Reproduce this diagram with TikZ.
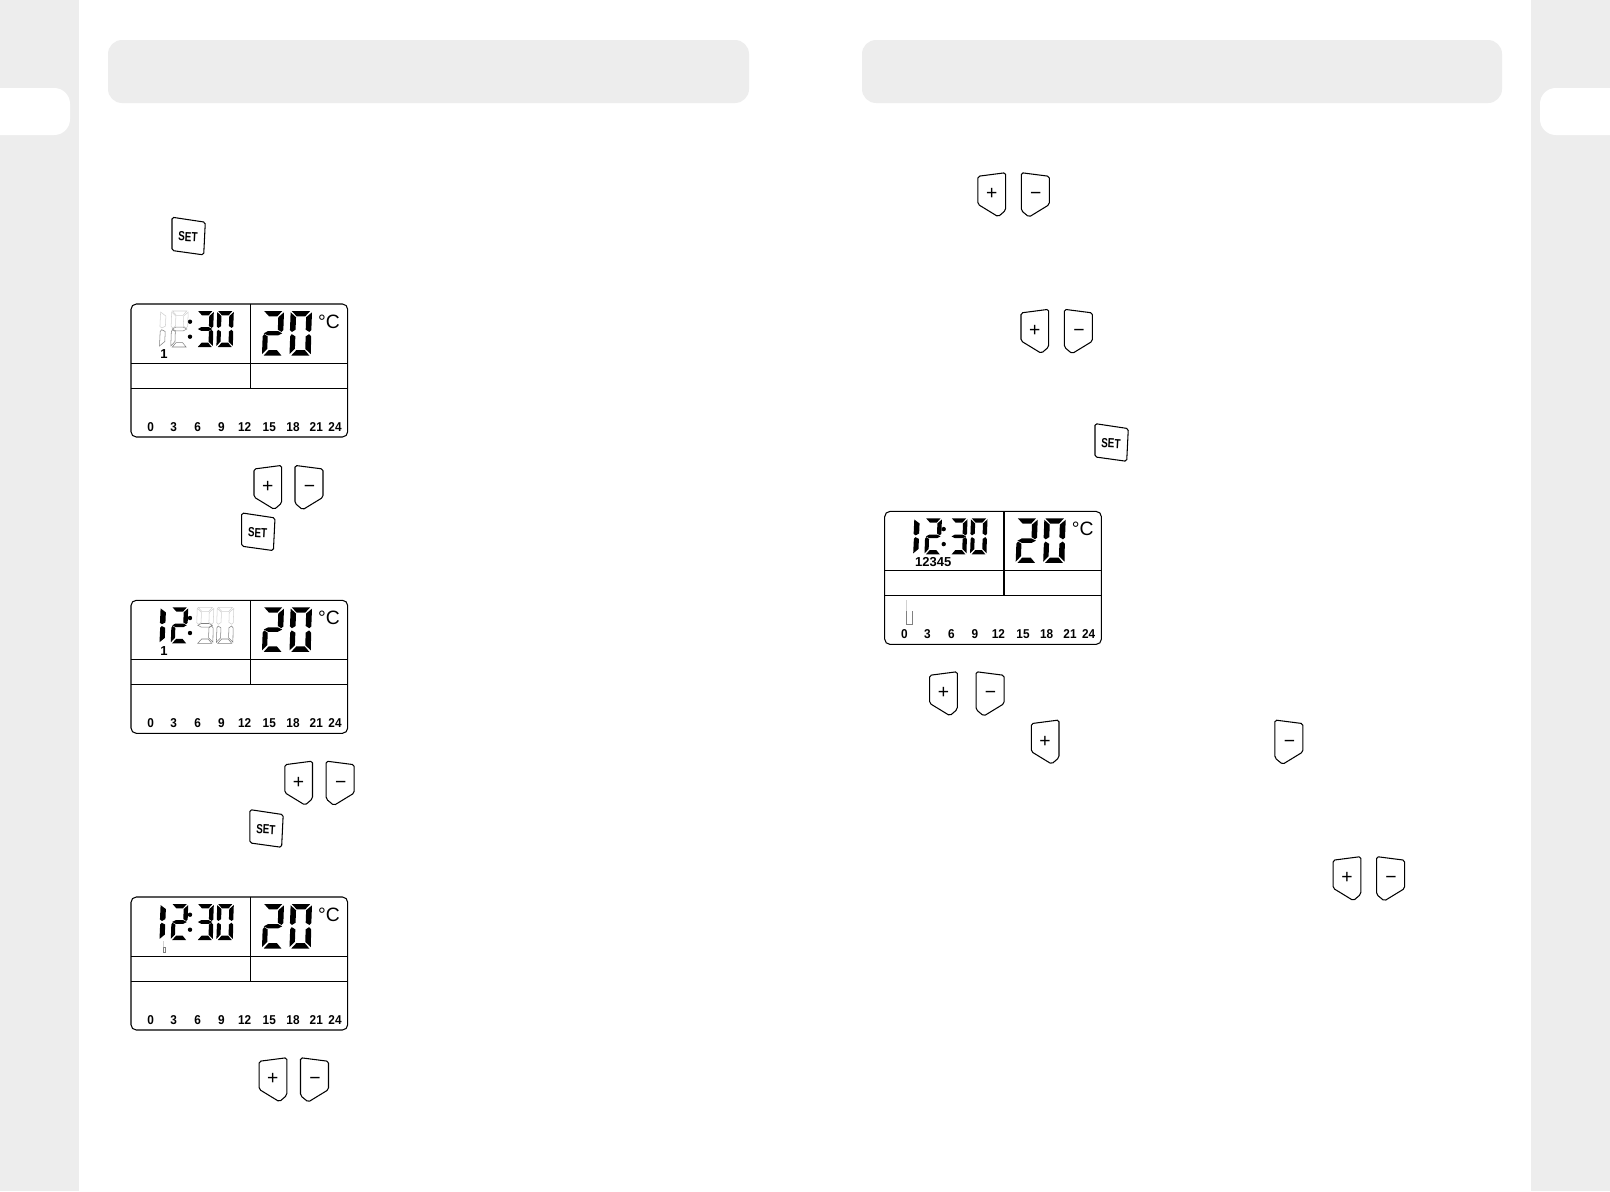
\documentclass[tikz,border=0pt]{standalone}
\usepackage{fontspec}
\setmainfont{Liberation Sans}
\definecolor{panelgray}{RGB}{237,237,237}
\newcommand{\sega}{(.10,0)--(.92,0)--(.70,.12)--(.32,.12)--cycle}
\newcommand{\segb}{(1,.03)--(.74,.14)--(.72,.42)--(.88,.47)--(.97,.43)--cycle}
\newcommand{\segc}{(.96,.57)--(.87,.52)--(.72,.57)--(.70,.85)--(.95,.97)--cycle}
\newcommand{\segd}{(.30,.88)--(.68,.88)--(.88,1)--(.08,1)--cycle}
\newcommand{\sege}{(.03,.57)--(.10,.52)--(.26,.57)--(.24,.85)--(0,.97)--cycle}
\newcommand{\segf}{(.05,.03)--(.29,.14)--(.27,.42)--(.11,.47)--(.02,.43)--cycle}
\newcommand{\segg}{(.08,.5)--(.28,.45)--(.72,.45)--(.92,.5)--(.72,.55)--(.28,.55)--cycle}
\newcommand{\segdigit}[6]{\begin{scope}[shift={(#1,#2)},xscale=#3,yscale=#4]
 \foreach \s in {#5} \path[#6] \csname seg\s\endcsname;
 \end{scope}}
\newcommand{\plusbtn}[3]{\node[keysym] (#1) at (#2,#3) {+};
 \draw[keyline] (#2,#3) ++(-13,-16.7) -- ++(27.7,-3.6) -- ++(0,37.6) -- ++(-7.4,6.4) -- ++(-20.3,-12.4) -- cycle;}
\newcommand{\minusbtn}[3]{\node[keysym] (#1) at (#2,#3) {−};
 \draw[keyline] (#2,#3) ++(-13.7,-20.3) -- ++(28,3.6) -- ++(0,28.3) -- ++(-20.3,12.4) -- ++(-7.7,-6.4) -- cycle;}
\newcommand{\setbtn}[3]{\node[setlabel] (#1) at (#2,#3) {\scalebox{.75}[1]{SET}};
 \draw[keyline] (#2,#3) ++(-16,-19) -- ++(33.3,5) -- ++(-1.6,32.7) -- ++(-31.7,-4.4) -- cycle;}
\newcommand{\lcdpanel}{
 \draw[lcdline,rounded corners=3pt] (0,0) rectangle (216.7,133);
 \draw[lcdline] (119.3,0) -- (119.3,84.3) (0,59.3) -- (216.7,59.3) (0,84.3) -- (216.7,84.3);
 \segdigit{131}{7}{22}{44.5}{a,b,g,e,d}{segon}
 \segdigit{158.5}{7}{22.5}{44.5}{a,b,c,d,e,f}{segon}
 \node[unitlabel] (unit) at (198,17.5) {°C};
 \fill (59,17.7) circle (2.2) (59,32.7) circle (2.2);
 \foreach \h/\hx in {0/19.7,3/42.7,6/66.7,9/90.3,12/113.7,15/138.3,18/162,21/185.3,24/204}
  \node[hourlabel] (hour\h) at (\hx,122.6) {\scalebox{.92}[1]{\h}};
}
\newcommand{\timetens}{\segdigit{28.5}{7}{22}{36}{f,e}{segon}
 \segdigit{39.8}{7}{17.4}{36}{a,b,g,e,d}{segon}}
\newcommand{\timeunits}{\segdigit{65.4}{7}{17.4}{36}{a,b,g,c,d}{segon}
 \segdigit{85.4}{7}{17.4}{36}{a,b,c,d,e,f}{segon}}
\begin{document}
\begin{tikzpicture}[x=.02cm,y=-.02cm,
 lcdline/.style={draw=black,line width=.6pt},
 keyline/.style={draw=black,line width=.6pt,rounded corners=1pt},
 keysym/.style={inner sep=0pt,xshift=.45pt,text height=7.8pt,text depth=0pt,font=\fontsize{11}{11}\selectfont},
 setlabel/.style={inner sep=0pt,rotate=-3,yshift=-.5pt,text height=5pt,text depth=0pt,font=\fontsize{7.5}{8}\selectfont\bfseries},
 segon/.style={fill=black},
 segfaint/.style={draw=black!18,line width=.3pt},
 segghost/.style={draw=black!50,line width=.3pt},
 unitlabel/.style={inner sep=0pt,text height=7.8pt,text depth=0pt,font=\fontsize{11}{12}\selectfont},
 hourlabel/.style={inner sep=0pt,text height=5.2pt,text depth=0pt,font=\fontsize{7.3}{8}\selectfont\bfseries},
 daylabel/.style={inner sep=0pt,text height=5.2pt,text depth=0pt,font=\fontsize{7.4}{8}\selectfont\bfseries}]
\useasboundingbox (0,0) rectangle (1610,1191);
\fill[white] (0,0) rectangle (1610,1191);
\fill[panelgray] (0,0) rectangle (79,1191);
\fill[panelgray] (1531,0) rectangle (1610,1191);
\fill[white,rounded corners=9pt] (-40,88) rectangle (70,135);
\fill[white,rounded corners=9pt] (1540,88) rectangle (1650,135);
\fill[panelgray,rounded corners=8pt] (108,40) rectangle (749,103);
\fill[panelgray,rounded corners=8pt] (862,40) rectangle (1502,103);
\setbtn{setA}{188}{236.2}
\begin{scope}[shift={(131,304)},name prefix=hourset-]
 \lcdpanel \timeunits
 \segdigit{28.5}{7}{22}{36}{f}{segfaint}
 \segdigit{28.5}{7}{22}{36}{e}{segghost}
 \segdigit{39.8}{7}{17.4}{36}{a,b,f}{segfaint}
 \segdigit{39.8}{7}{17.4}{36}{g,e,d}{segghost}
 \node[daylabel] (day) at (33,50.3) {1};
\end{scope}
\plusbtn{plusA}{267}{485.7}
\minusbtn{minusA}{308.7}{485.7}
\setbtn{setB}{257.7}{531.9}
\begin{scope}[shift={(131,600.3)},name prefix=minset-]
 \lcdpanel \timetens
 \segdigit{65.4}{7}{17.4}{36}{a,f,b}{segfaint}
 \segdigit{85.4}{7}{17.4}{36}{a,f,b}{segfaint}
 \segdigit{65.4}{7}{17.4}{36}{g,c,d}{segghost}
 \segdigit{85.4}{7}{17.4}{36}{c,d,e}{segghost}
 \node[daylabel] (day) at (33,50.3) {1};
\end{scope}
\plusbtn{plusB}{297.8}{781.4}
\minusbtn{minusB}{339.9}{781.4}
\setbtn{setC}{265.9}{828.6}
\begin{scope}[shift={(131,897)},name prefix=dayset-]
 \lcdpanel \timetens \timeunits
 \draw[segfaint] (32.6,44) -- (32.6,50);
 \draw[segghost] (32,50) rectangle (34,55);
\end{scope}
\plusbtn{plusC}{272.1}{1078}
\minusbtn{minusC}{314.2}{1078}
\plusbtn{plusD}{990.9}{193}
\minusbtn{minusD}{1035}{193}
\plusbtn{plusE}{1034}{329.6}
\minusbtn{minusE}{1078.1}{329.6}
\setbtn{setD}{1111}{442.6}
\begin{scope}[shift={(884.7,511.4)},name prefix=prog-]
 \lcdpanel \timetens \timeunits
 \node[daylabel] (days) at (48.5,50.3) {12345};
 \draw[segfaint] (21.5,89) -- (21.5,100);
 \draw[segghost] (21.5,100) -- (21.5,113) -- (27.5,113) -- (27.5,100);
\end{scope}
\plusbtn{plusF}{942.6}{692}
\minusbtn{minusF}{989.8}{692}
\plusbtn{plusG}{1044.3}{740.3}
\minusbtn{minusG}{1288.6}{740.3}
\plusbtn{plusH}{1346.1}{876.9}
\minusbtn{minusH}{1390.3}{876.9}
\end{tikzpicture}
\end{document}
